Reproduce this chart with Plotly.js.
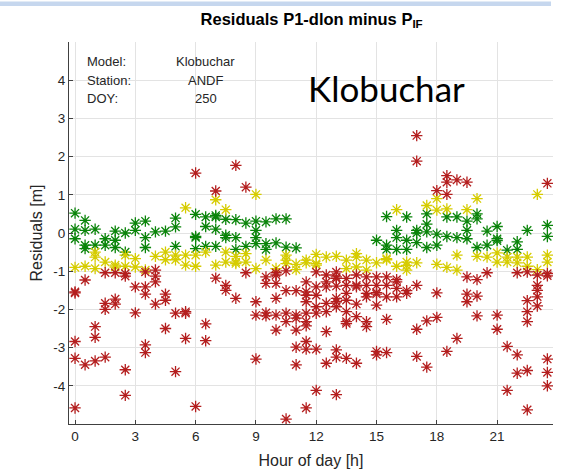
<!DOCTYPE html>
<html>
<head>
<meta charset="utf-8">
<script src="https://cdn.plot.ly/plotly-3.0.1.min.js"></script>
<style>
  html, body { margin: 0; padding: 0; background: #ffffff; }
  #chart { width: 561px; height: 472px; }
</style>
</head>
<body>
<div id="chart"></div>
<script>
// Epochs (hour of day) and residuals [m] per epoch for each satellite group
var epochs = [0, 0.5, 1, 1.5, 2, 2.5, 3, 3.5, 4, 4.5, 5, 5.5, 6, 6.5, 7, 7.5,
              8, 8.5, 9, 9.5, 10, 10.5, 11, 11.5, 12, 12.5, 13, 13.5, 14, 14.5, 15, 15.5,
              16, 16.5, 17, 17.5, 18, 18.5, 19, 19.5, 20, 20.5, 21, 21.5, 22, 22.5, 23, 23.5];

var greenRes = [
  [0.52, 0.1, -0.15], [0.33, 0.07, -0.32, -0.41], [0.1, -0.32], [-0.15, -0.32],
  [0.05, -0.19, -0.38], [0, -0.5], [0.26, 0.07], [0.31, -0.12, -0.38],
  [0.03], [0.05], [0.39, 0.16, -0.35], [],
  [0.49, -0.09, -0.12, -0.41], [0.42, 0.17, -0.35], [0.46, 0.42, 0.1, -0.35], [0.36, -0.06, -0.12],
  [0.35, -0.12, -0.43], [0.26, -0.35], [0.31, 0.07, -0.12, -0.28], [0.29, -0.28, -0.43],
  [0.37, -0.26], [0.37, -0.37], [-0.39], [],
  [], [], [], [],
  [], [], [-0.19], [0.43, -0.32, -0.43],
  [0.07, -0.12, -0.43], [0.42, -0.19, -0.43], [0.07, 0.0, -0.25], [0.5, 0.23, 0.03, -0.38],
  [-0.03, -0.32], [0.42, -0.09], [0.42, -0.12], [0.31, 0.07, -0.15],
  [0.5, 0.37, -0.38], [0.05, -0.32], [0.17, -0.15, -0.2], [-0.45],
  [-0.23, -0.43], [0.07], [], [0.2, -0.09]
];

var yellowRes = [
  [-0.9], [-0.87], [-0.5, -0.63, -0.93], [-0.76],
  [-0.84, -0.89], [-0.58, -0.87], [-0.67, -0.89], [-0.97],
  [-0.61], [-0.5, -0.7], [-0.58, -0.7], [0.66, -0.58, -0.84],
  [-0.58, -0.87], [-0.5], [0.87, -0.84], [0.61, -0.5, -0.76],
  [-0.61, -0.76, -0.8], [-0.54, -0.76], [1.01, -0.93], [-0.71],
  [-0.93], [-0.58, -0.71, -0.8], [-0.82, -0.96], [-0.71, -0.78],
  [-0.56, -0.8, -0.84], [-0.63], [-0.61], [-0.71, -0.93],
  [-0.54, -0.63, -0.89], [-0.71, -0.97], [-0.78], [-0.67, -0.7],
  [0.61, -0.87], [-0.76, -0.85, -0.97], [-0.78], [0.72],
  [0.9, 0.6, -0.82], [0.63, -0.9], [-0.58, -0.97], [0.61],
  [0.9, -0.61], [-0.63], [-0.52, -0.76], [-0.63, -0.76],
  [-0.63, -0.78], [-0.63, -0.87], [1.01, -0.96], [-0.58, -0.76]
];

var redRes = [
  [-1.54, -1.57, -2.84, -3.28, -4.58], [-1.23, -3.45], [-2.45, -2.73, -3.35], [-1.04, -1.84, -2.0, -3.25],
  [-1.04, -1.73, -1.86], [-1.06, -1.13, -3.58, -4.25], [-1.41, -2.09], [-1.02, -1.41, -1.6, -2.93, -3.13],
  [-0.97, -1.13, -1.28, -1.86], [-1.6, -1.76, -2.5], [-2.1, -3.63], [-2.06, -2.1, -2.76],
  [1.57, -4.54], [-2.38, -2.82], [1.1, -1.18], [-1.37, -1.5],
  [1.77, -1.71], [1.2, -1.04], [-1.8, -2.15, -3.3], [-1.15, -1.32, -2.09, -2.17],
  [-1.04, -1.1, -1.32, -1.71, -2.15, -2.54], [-0.99, -1.51, -2.1, -2.32, -4.87],
  [-1.51, -2.15, -2.23, -2.54, -2.99, -3.45],
  [-1.28, -1.54, -1.63, -1.8, -2.1, -2.32, -2.43, -2.84, -3.04, -4.58],
  [-1.02, -1.41, -1.63, -1.93, -2.1, -3.04, -4.12], [-1.1, -1.28, -1.41, -1.84, -2.06, -2.58, -3.41],
  [-1.02, -1.15, -1.19, -1.39, -1.71, -1.8, -1.93, -3.06, -3.25, -4.23],
  [-1.19, -1.37, -1.58, -1.76, -2.06, -2.32, -2.37, -3.28],
  [-1.1, -1.37, -1.41, -1.86, -2.19, -3.41], [-1.15, -1.37, -1.58, -1.67, -2.32, -2.45],
  [-1.15, -1.37, -1.56, -1.6, -1.89, -3.1, -3.19], [-1.15, -1.37, -1.67, -2.26, -3.13],
  [-1.22, -1.28, -1.45, -1.67], [-1.51, -1.58], [2.55, 1.88, -1.37, -2.52, -3.23], [-2.3, -3.51],
  [1.11, -1.57, -2.21], [1.5, 1.33, 1.01, -3.1], [1.39, -2.76], [1.33, -1.15, -1.6, -1.8],
  [-1.22, -1.65, -2.17], [-1.04], [-2.15, -2.52], [-2.97, -4.12],
  [-1.04, -3.19, -3.67], [-1.02, -1.77, -2.06, -2.32, -3.6, -4.63], [-1.1, -1.37, -1.5, -1.67, -1.91],
  [1.3, -1.06, -1.12, -3.3, -3.65, -4.0]
];

var xTicks = [0, 3, 6, 9, 12, 15, 18, 21];
var yTicks = [-4, -3, -2, -1, 0, 1, 2, 3, 4];
var infoLabels = ['Model:', 'Station:', 'DOY:'];
var infoValues = ['Klobuchar', 'ANDF', '250'];

function flatten(res) {
  var xs = [], ys = [];
  for (var i = 0; i < epochs.length; i++) {
    var list = res[i] || [];
    for (var j = 0; j < list.length; j++) { xs.push(epochs[i]); ys.push(list[j]); }
  }
  return {x: xs, y: ys};
}

function trace(res, color) {
  var d = flatten(res);
  return {
    type: 'scatter', mode: 'markers', x: d.x, y: d.y,
    marker: {symbol: 'asterisk-open', size: 9.5, color: color, line: {color: color, width: 1.3}},
    hoverinfo: 'skip', showlegend: false
  };
}

var data = [
  trace(greenRes, '#0a840a'),
  trace(yellowRes, '#d6cc00'),
  trace(redRes, '#b41e1e')
];

var fontMain = 'Liberation Sans, Arial, sans-serif';
var annots = [];
var rowY = [0.948, 0.9005, 0.853];
for (var i = 0; i < infoLabels.length; i++) {
  annots.push({xref: 'paper', yref: 'paper', x: 0.033, y: rowY[i], xanchor: 'left', yanchor: 'middle',
    text: infoLabels[i], showarrow: false, font: {family: fontMain, size: 13, color: '#262626'}});
  annots.push({xref: 'paper', yref: 'paper', x: 0.283, y: rowY[i], xanchor: 'center', yanchor: 'middle',
    text: infoValues[i], showarrow: false, font: {family: fontMain, size: 13, color: '#262626'}});
}
annots.push({xref: 'paper', yref: 'paper', x: 0.655, y: 0.88, xanchor: 'center', yanchor: 'middle',
  text: 'Klobuchar', showarrow: false, font: {family: 'Lato, Open Sans, sans-serif', size: 35, color: '#000000'}});

var layout = {
  width: 561, height: 472,
  margin: {l: 69, r: 8, t: 42, b: 48},
  paper_bgcolor: '#ffffff', plot_bgcolor: '#ffffff',
  title: {text: '<b>Residuals P1-dlon minus P<sub>IF</sub></b>', x: 0.5555, xanchor: 'center',
          y: 0.96, yanchor: 'middle', font: {family: fontMain, size: 16.5, color: '#000000'}},
  xaxis: {
    range: [-0.3, 23.78], tickvals: xTicks, ticktext: xTicks.map(String),
    showgrid: true, gridcolor: '#e3e3e3', zeroline: false,
    showline: true, linecolor: '#404040', linewidth: 1,
    ticks: 'inside', ticklen: 4, tickcolor: '#404040',
    tickfont: {family: fontMain, size: 13.5, color: '#262626'},
    title: {text: 'Hour of day [h]', font: {family: fontMain, size: 16, color: '#262626'}, standoff: 11}
  },
  yaxis: {
    range: [-5, 5], tickvals: yTicks, ticktext: yTicks.map(String),
    showgrid: true, gridcolor: '#e3e3e3', zeroline: false,
    showline: true, linecolor: '#404040', linewidth: 1,
    ticks: 'inside', ticklen: 4, tickcolor: '#404040',
    tickfont: {family: fontMain, size: 13.5, color: '#262626'},
    title: {text: 'Residuals [m]', font: {family: fontMain, size: 16, color: '#262626'}, standoff: 6}
  },
  annotations: annots,
  shapes: [{type: 'rect', xref: 'paper', yref: 'paper', x0: -0.1426, x1: 0.9959,
            y0: 1.0942, y1: 1.1060, fillcolor: '#c6d7ee', line: {width: 0}, layer: 'above'}],
  hovermode: false
};

Plotly.newPlot('chart', data, layout, {displayModeBar: false, staticPlot: true});
</script>
</body>
</html>
